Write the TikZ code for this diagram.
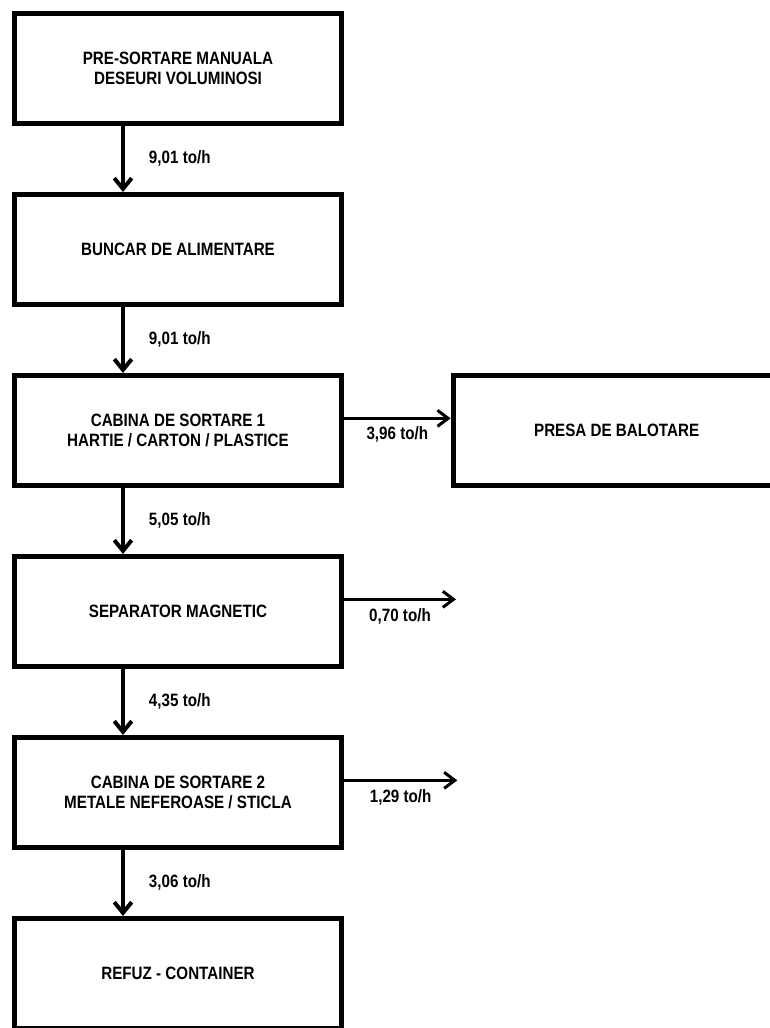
\documentclass[tikz,border=0pt]{standalone}
\usepackage{fontspec}
\newfontfamily\narrowfont{Liberation Sans}[FakeStretch=0.85]
\usetikzlibrary{arrows.meta,positioning}

\begin{document}
\begin{tikzpicture}[font=\narrowfont\bfseries\fontsize{13.4}{15.5}\selectfont]

      \tikzstyle{stepbox}=[rectangle,draw,line width=3.75pt,
        minimum width=245.25pt,minimum height=82.25pt,
        align=center,fill=white]
      \tikzstyle{down}=[line width=3pt,
        -{Straight Barb[length=8pt,width=13pt]}]
      \tikzstyle{side}=[line width=2.25pt,
        -{Straight Barb[length=8pt,width=12pt]}]
      \tikzstyle{rate}=[inner sep=0pt]

      % page size of the reference
      \useasboundingbox (-133.5pt,51.25pt) rectangle (443.25pt,-719.75pt);

      \node(PRE)[stepbox]{PRE-SORTARE MANUALA\\DESEURI VOLUMINOSI};
      \node(BUNCAR)[stepbox,below =49.75pt of PRE]{BUNCAR DE ALIMENTARE};
      \node(CAB1)[stepbox,below =49.75pt of BUNCAR]{CABINA DE SORTARE 1\\HARTIE / CARTON / PLASTICE};
      \node(MAG)[stepbox,below =49.75pt of CAB1]{SEPARATOR MAGNETIC};
      \node(CAB2)[stepbox,below =49.75pt of MAG]{CABINA DE SORTARE 2\\METALE NEFEROASE / STICLA};
      \node(REFUZ)[stepbox,below =49.75pt of CAB2]{REFUZ - CONTAINER};

      \node(PRESA)[stepbox,right =80pt of CAB1]{PRESA DE BALOTARE};

      \draw [down] ([xshift=-41.25pt]PRE.south)--([xshift=-41.25pt]BUNCAR.north)
        node[rate,midway,right=18pt]{9,01 to/h};
      \draw [down] ([xshift=-41.25pt]BUNCAR.south)--([xshift=-41.25pt]CAB1.north)
        node[rate,midway,right=18pt]{9,01 to/h};
      \draw [down] ([xshift=-41.25pt]CAB1.south)--([xshift=-41.25pt]MAG.north)
        node[rate,midway,right=18pt]{5,05 to/h};
      \draw [down] ([xshift=-41.25pt]MAG.south)--([xshift=-41.25pt]CAB2.north)
        node[rate,midway,right=18pt]{4,35 to/h};
      \draw [down] ([xshift=-41.25pt]CAB2.south)--([xshift=-41.25pt]REFUZ.north)
        node[rate,midway,right=18pt]{3,06 to/h};

      \coordinate(MAGOUT) at ([xshift=84pt,yshift=9pt]MAG.east);
      \coordinate(CAB2OUT) at ([xshift=85pt,yshift=9pt]CAB2.east);

      \draw [side] ([yshift=9pt]CAB1.east)--([yshift=9pt]PRESA.west)
        node[rate,midway,below=5pt]{3,96 to/h};
      \draw [side] ([yshift=9pt]MAG.east)--(MAGOUT)
        node[rate,midway,below=6pt]{0,70 to/h};
      \draw [side] ([yshift=9pt]CAB2.east)--(CAB2OUT)
        node[rate,midway,below=6pt]{1,29 to/h};

    \end{tikzpicture}
\end{document}
